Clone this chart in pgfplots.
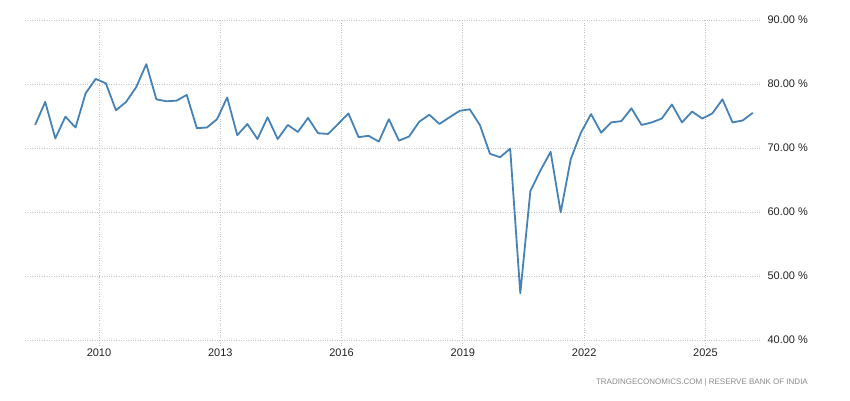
\documentclass[border=0pt]{standalone}
\usepackage{pgfplots}
\pgfplotsset{compat=1.18}
\usepackage{fontspec}
\setmainfont{Liberation Sans}
\definecolor{lineblue}{HTML}{4682B4}
\definecolor{gridgray}{HTML}{C4C4C4}
\definecolor{labelcol}{HTML}{222222}
\definecolor{srccol}{HTML}{8A8A8A}
\begin{document}
\begin{tikzpicture}
\path[use as bounding box] (0pt,0pt) rectangle (850pt,400pt);
\begin{axis}[
  at={(25pt,60pt)}, anchor=south west,
  scale only axis, width=736pt, height=320pt,
  xmin=2008.17, xmax=2026.374, ymin=40, ymax=90,
  axis line style={draw=none},
  xtick={2010,2013,2016,2019,2022,2025},
  xticklabels={2010,2013,2016,2019,2022,2025},
  ytick={40,50,60,70,80,90},
  yticklabels={40.00 \%,50.00 \%,60.00 \%,70.00 \%,80.00 \%,90.00 \%},
  yticklabel pos=right,
  xtick pos=bottom,
  tick align=outside,
  major tick length=5pt,
  xtick style={gridgray, dotted, line width=0.8pt},
  ytick style={draw=none},
  grid=major,
  major grid style={gridgray, dotted, line width=0.8pt},
  ticklabel style={font=\fontsize{11}{12}\selectfont, text=labelcol},
  yticklabel style={anchor=west, xshift=-2pt},
  clip=false,
]
\addplot[lineblue, line width=1.8pt, line join=round, mark=none] coordinates {
(2008.42,73.6) (2008.67,77.2) (2008.92,71.5) (2009.17,74.9) (2009.42,73.2)
(2009.67,78.55) (2009.92,80.8) (2010.17,80.1) (2010.42,75.9) (2010.67,77.2)
(2010.92,79.5) (2011.17,83.1) (2011.42,77.6) (2011.67,77.3) (2011.92,77.4)
(2012.17,78.3) (2012.42,73.1) (2012.67,73.2) (2012.92,74.5) (2013.17,77.9)
(2013.42,72.0) (2013.67,73.75) (2013.92,71.4) (2014.17,74.8) (2014.42,71.4)
(2014.67,73.6) (2014.92,72.5) (2015.17,74.7) (2015.42,72.3) (2015.67,72.2)
(2015.92,73.8) (2016.17,75.4) (2016.42,71.7) (2016.67,71.9) (2016.92,71.0)
(2017.17,74.5) (2017.42,71.15) (2017.67,71.8) (2017.92,74.1) (2018.17,75.2)
(2018.42,73.75) (2018.67,74.8) (2018.92,75.8) (2019.17,76.05) (2019.42,73.6)
(2019.67,69.1) (2019.92,68.55) (2020.17,69.9) (2020.42,47.3) (2020.67,63.3)
(2020.92,66.5) (2021.17,69.4) (2021.42,59.95) (2021.67,68.3) (2021.92,72.4)
(2022.17,75.3) (2022.42,72.4) (2022.67,74.0) (2022.92,74.2) (2023.17,76.2)
(2023.42,73.6) (2023.67,74.0) (2023.92,74.6) (2024.17,76.8) (2024.42,74.0)
(2024.67,75.7) (2024.92,74.6) (2025.17,75.4) (2025.42,77.6) (2025.67,74.0)
(2025.92,74.3) (2026.17,75.5)
};
\end{axis}
\node[anchor=east, font=\fontsize{8}{9}\selectfont, text=srccol, inner sep=0pt] at (808pt,18pt) {TRADINGECONOMICS.COM | RESERVE BANK OF INDIA};
\end{tikzpicture}
\end{document}
